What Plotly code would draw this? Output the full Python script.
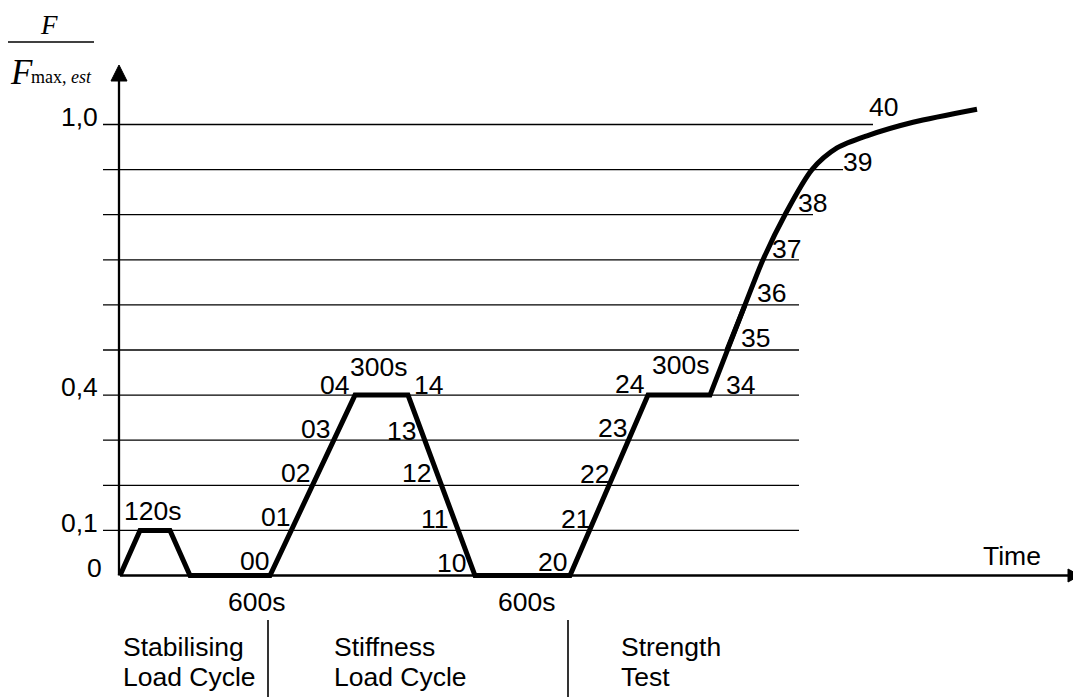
import plotly.graph_objects as go

# ---- data (schematic time units, load ratio F/Fmax,est) ----
time_cycles = [0, 20, 50, 70, 150, 235, 288, 355, 450, 528, 590, 607, 625]
load_cycles = [0, 0.1, 0.1, 0, 0, 0.4, 0.4, 0, 0, 0.4, 0.4, 0.5, 0.6]
time_strength = [607, 625, 643, 665, 692, 717, 747, 793, 857]
load_strength = [0.5, 0.6, 0.7, 0.8, 0.9, 0.948, 0.975, 1.005, 1.034]

grid_levels = [0.1, 0.2, 0.3, 0.4, 0.5, 0.6, 0.7, 0.8, 0.9, 1.0]
grid_end = [679, 679, 679, 679, 679, 679, 679, 693, 723, 753]
tick_levels = [0, 0.1, 0.4, 1.0]
tick_labels = ["0", "0,1", "0,4", "1,0"]

# point labels: text, time, load (label centre)
point_labels = ["120s", "00", "01", "02", "03", "04", "300s", "14", "13", "12", "11", "10",
                "20", "21", "22", "23", "24", "300s", "34", "35", "36", "37", "38", "39", "40",
                "600s", "600s", "Time"]
label_t = [32.5, 134, 155, 175, 195, 214, 258, 308, 281, 296, 315, 331,
           432, 455, 474, 492, 509, 560, 620, 635, 651, 666, 692, 737, 763,
           136, 406, 892]
label_f = [0.142, 0.032, 0.130, 0.228, 0.325, 0.423, 0.463, 0.423, 0.321, 0.228, 0.126, 0.028,
           0.030, 0.126, 0.226, 0.328, 0.425, 0.467, 0.423, 0.527, 0.627, 0.724, 0.826, 0.917, 1.039,
           -0.058, -0.058, 0.044]

phase_lines = ["Stabilising", "Load Cycle", "Stiffness", "Load Cycle", "Strength", "Test"]
phase_t = [1, 1, 212, 212, 499, 499]
phase_f = [-0.159, -0.225, -0.159, -0.225, -0.159, -0.225]
phase_sep_t = [148, 448]

# ---- coordinate frame: 1 time unit = 1 px, 0.1 load = 45.1 px ----
# the page body has an 8 px margin, so the figure is 8 px smaller each way
X0, Y0, SY = 120, 575.5, 451.0
PAGE_W, PAGE_H, BODY = 1081, 697, 8
W, H = PAGE_W - BODY, PAGE_H - BODY
xr = [BODY - X0, PAGE_W - X0]
yr = [(Y0 - PAGE_H) / SY, (Y0 - BODY) / SY]

FONT = "Liberation Sans, Arial, sans-serif"
SERIF = "Liberation Serif, Times New Roman, serif"
FS = 26.5

fig = go.Figure()

shapes = []
# horizontal level lines
for lv, e in zip(grid_levels, grid_end):
    shapes.append(dict(type="line", xref="x", yref="y", x0=-17, x1=e, y0=lv, y1=lv,
                       line=dict(color="black", width=1.3), layer="below"))
# axes
shapes.append(dict(type="line", xref="x", yref="y", x0=-1, x1=-1, y0=0, y1=(Y0 - 75) / SY,
                   line=dict(color="black", width=2.3)))
shapes.append(dict(type="line", xref="x", yref="y", x0=0, x1=950, y0=0, y1=0,
                   line=dict(color="black", width=2.3)))
# arrow heads
ty, by = (Y0 - 65) / SY, (Y0 - 81) / SY
shapes.append(dict(type="path", xref="x", yref="y",
                   path=f"M -1 {ty} L -9 {by} L 7 {by} Z",
                   fillcolor="black", line=dict(color="black", width=1)))
dy = 6.5 / SY
shapes.append(dict(type="path", xref="x", yref="y",
                   path=f"M 960 0 L 948 {dy} L 948 {-dy} Z",
                   fillcolor="black", line=dict(color="black", width=1)))
# phase separators
for st in phase_sep_t:
    shapes.append(dict(type="line", xref="x", yref="y", x0=st, x1=st,
                       y0=(Y0 - 620) / SY, y1=(Y0 - 700) / SY,
                       line=dict(color="black", width=1.6)))
# fraction bar
shapes.append(dict(type="line", xref="x", yref="y", x0=-112, x1=-26,
                   y0=(Y0 - 42) / SY, y1=(Y0 - 42) / SY,
                   line=dict(color="black", width=1.3)))

fig.add_trace(go.Scatter(x=time_cycles, y=load_cycles, mode="lines",
                         line=dict(color="black", width=5), hoverinfo="skip"))
fig.add_trace(go.Scatter(x=time_strength, y=load_strength, mode="lines",
                         line=dict(color="black", width=5, shape="spline", smoothing=0.8),
                         hoverinfo="skip"))

ann = []
for txt, t, f in zip(point_labels, label_t, label_f):
    ann.append(dict(x=t, y=f, xref="x", yref="y", text=txt, showarrow=False,
                    xanchor="center", yanchor="middle",
                    font=dict(family=FONT, size=FS, color="black")))
for txt, lv in zip(tick_labels, tick_levels):
    ann.append(dict(x=-16 if txt == "0" else -20, y=lv + 0.017, xref="x", yref="y", text=txt,
                    showarrow=False, xanchor="right", yanchor="middle",
                    font=dict(family=FONT, size=FS, color="black")))
for txt, t, f in zip(phase_lines, phase_t, phase_f):
    ann.append(dict(x=t, y=f, xref="x", yref="y", text=txt, showarrow=False,
                    xanchor="left", yanchor="middle",
                    font=dict(family=FONT, size=FS, color="black")))
# y-axis title as a fraction
ann.append(dict(x=-71, y=(Y0 - 8.5) / SY, xref="x", yref="y", text="<i>F</i>", showarrow=False,
                xanchor="center", yanchor="top", borderpad=0,
                font=dict(family=SERIF, size=27, color="black")))
ann.append(dict(x=-98.5, y=(Y0 - 72) / SY, xref="x", yref="y", text="<i>F</i>", showarrow=False,
                xanchor="center", yanchor="middle", font=dict(family=SERIF, size=35, color="black")))
ann.append(dict(x=-91, y=(Y0 - 77) / SY, xref="x", yref="y", text="max, <i>est</i>", showarrow=False,
                xanchor="left", yanchor="middle", font=dict(family=SERIF, size=18, color="black")))

fig.update_layout(
    width=W, height=H, autosize=False,
    margin=dict(l=0, r=0, t=0, b=0),
    paper_bgcolor="white", plot_bgcolor="white",
    showlegend=False,
    xaxis=dict(range=xr, visible=False, fixedrange=True),
    yaxis=dict(range=yr, visible=False, fixedrange=True),
    shapes=shapes, annotations=ann,
)

fig.write_html("out.html")
